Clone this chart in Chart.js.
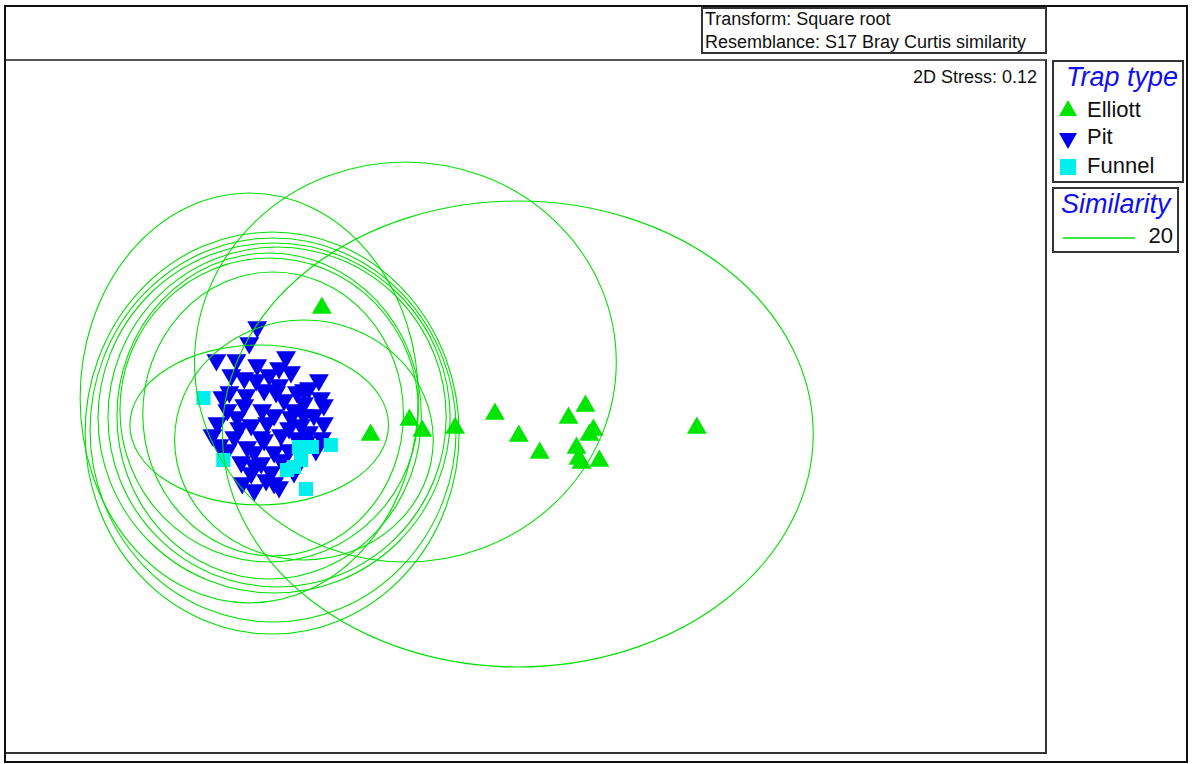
<!DOCTYPE html>
<html>
<head>
<meta charset="utf-8">
<title>nMDS – trap type</title>
<script src="https://cdn.jsdelivr.net/npm/chart.js@4.4.0/dist/chart.umd.min.js"></script>
<style>
  body { margin: 0; background: #fff; font-family: Arial, "Liberation Sans", sans-serif; }
  #wrap { position: relative; width: 1192px; height: 764px; overflow: hidden; }
  #grafico { position: absolute; left: 0; top: 0; }
  .marco { position: absolute; left: 4px; top: 5px; width: 1180px; height: 754px; border: 2px solid #111; }
  .caja-plot { position: absolute; left: 6px; top: 59px; width: 1039px; height: 691px;
               border-top: 2px solid #555; border-right: 2px solid #333; border-bottom: 2px solid #333; }
  .caja { position: absolute; border: 2px solid #333; background: #fff; }
  .txt { position: absolute; line-height: 1; white-space: nowrap; color: #111; }
  .tit { color: #1010ee; font-style: italic; font-size: 27px; }
  .fila { font-size: 22px; }
  .marca { position: absolute; }
</style>
</head>
<body>
<div id="wrap">
  <div class="marco"></div>
  <div class="caja-plot"></div>

  <div class="caja" style="left:701px; top:7px; width:342px; height:43px;"></div>
  <div class="txt" style="left:705px; top:10px; font-size:18px;">Transform: Square root</div>
  <div class="txt" style="left:705px; top:33px; font-size:18px;">Resemblance: S17 Bray Curtis similarity</div>
  <div class="txt" style="right:155px; top:68px; font-size:18px;">2D Stress: 0.12</div>

  <!-- trap type legend -->
  <div class="caja" style="left:1052px; top:60px; width:128px; height:119px;"></div>
  <div class="txt tit" style="left:1066px; top:64px;">Trap type</div>
  <svg class="marca" style="left:1059px; top:100px;" width="18" height="16"><polygon points="9,0 18,16 0,16" fill="#00e600"/></svg>
  <div class="txt fila" style="left:1087px; top:99px;">Elliott</div>
  <svg class="marca" style="left:1059px; top:133px;" width="18" height="16"><polygon points="0,0 18,0 9,16" fill="#0000ee"/></svg>
  <div class="txt fila" style="left:1087px; top:126px;">Pit</div>
  <svg class="marca" style="left:1060px; top:159px;" width="16" height="16"><rect x="0" y="0" width="16" height="16" fill="#00eeee"/></svg>
  <div class="txt fila" style="left:1087px; top:155px;">Funnel</div>

  <!-- similarity legend -->
  <div class="caja" style="left:1052px; top:187px; width:123px; height:62px;"></div>
  <div class="txt tit" style="left:1061px; top:191px;">Similarity</div>
  <svg class="marca" style="left:1063px; top:233px;" width="72" height="10"><line x1="0" y1="5" x2="72" y2="5" stroke="#00e000" stroke-width="1.5"/></svg>
  <div class="txt fila" style="right:19px; top:225px;">20</div>

  <canvas id="grafico" width="1192" height="764"></canvas>
</div>

<script>
// nMDS ordination, coordinates in ordination units
const elliottX = [-0.82, -0.33, 0.06, 0.19, 0.52, 0.92, 1.16, 1.37, 1.66, 1.83, 1.91, 1.87, 1.74, 1.79, 1.76, 1.97, 2.95];
const elliottY = [ 1.22, -0.05, 0.10, -0.01, 0.02, 0.16, -0.06, -0.23, 0.12, 0.24, 0.00, -0.05, -0.18, -0.33, -0.29, -0.31, 0.02];

const pitX = [-1.47, -1.55, -1.88, -1.68, -1.47, -1.18, -1.13, -1.73, -1.35, -0.85, -1.48, -1.58, -1.28, -1.07,
              -1.82, -0.83, -1.20, -1.00, -1.77, -1.42, -1.67, -1.30, -1.13, -0.90, -1.87, -1.53, -1.37, -1.03,
              -0.80, -1.92, -1.70, -1.43, -1.23, -1.07, -1.77, -1.57, -1.30, -0.88, -1.63, -1.43, -1.23, -1.53,
              -1.33, -1.62, -1.50, -1.30, -1.25, -1.60, -1.10, -0.98, -1.15, -1.50, -1.25, -0.95, -1.40,
              -1.75, -1.00, -0.80, -1.65, -1.40, -1.15, -0.95, -0.82, -1.50, -1.10, -1.38, -1.85, -1.00,
              -1.60, -1.25];
const pitY = [ 1.03, 0.87, 0.70, 0.70, 0.65, 0.73, 0.58, 0.55, 0.55, 0.50, 0.50, 0.35, 0.38, 0.38,
               0.33, 0.32, 0.30, 0.27, 0.20, 0.20, 0.13, 0.15, 0.13, 0.15, 0.07, 0.05, 0.07, 0.05,
               0.07, -0.05, -0.07, -0.07, -0.05, -0.08, -0.20, -0.17, -0.22, -0.20, -0.32, -0.33, -0.30, -0.43,
              -0.42, -0.53, -0.60, -0.53, -0.57, 0.25, 0.20, -0.12, -0.20, -0.22, 0.45, 0.42, 0.40,
               0.38, 0.40, 0.25, 0.02, -0.10, 0.02, -0.02, -0.08, -0.35, -0.42, -0.50, -0.15, 0.15,
               0.52, 0.62];

const funnelX = [-2.01, -1.81, -1.17, -1.10, -1.05, -0.92, -1.03, -0.73, -0.98];
const funnelY = [ 0.32, -0.30, -0.40, -0.37, -0.17, -0.17, -0.30, -0.15, -0.59];

// 20% similarity contours: centre and semi-axes
const contourX  = [1.15, 0.02, -1.55, -1.32, -1.31, -1.30, -1.27, -1.35, -1.35, -1.31, -1.00, -1.45];
const contourY  = [-0.04, 0.68, 0.32, -0.03, 0.00, 0.12, 0.13, 0.14, 0.20, 0.16, -0.10, 0.05];
const contourRx = [2.97, 2.12, 1.70, 1.88, 1.84, 1.77, 1.70, 1.53, 1.50, 1.31, 1.30, 1.30];
const contourRy = [2.33, 2.00, 2.05, 2.01, 1.92, 1.75, 1.70, 1.63, 1.52, 1.42, 1.20, 0.80];

const ringColour = '#00e000';

function puntos(xs, ys) {
    return xs.map((x, i) => ({ x, y: ys[i] }));
}

// Contours drawn over the samples, clipped to the plot box
const contornos = {
    id: 'contornos',
    afterDatasetsDraw(chart) {
        const { ctx, chartArea, scales: { x, y } } = chart;
        ctx.save();
        ctx.beginPath();
        ctx.rect(chartArea.left, chartArea.top, chartArea.width, chartArea.height);
        ctx.clip();
        ctx.strokeStyle = ringColour;
        ctx.lineWidth = 1.1;
        contourX.forEach((cx, i) => {
            const px = x.getPixelForValue(cx);
            const py = y.getPixelForValue(contourY[i]);
            const rx = Math.abs(x.getPixelForValue(cx + contourRx[i]) - px);
            const ry = Math.abs(y.getPixelForValue(contourY[i] + contourRy[i]) - py);
            ctx.beginPath();
            ctx.ellipse(px, py, rx, ry, 0, 0, 2 * Math.PI);
            ctx.stroke();
        });
        ctx.restore();
    }
};

const ctx = document.getElementById('grafico').getContext('2d');

window.graficoMDS = new Chart(ctx, {
    type: 'scatter',
    data: {
        datasets: [
            {
                label: 'Funnel',
                data: puntos(funnelX, funnelY),
                pointStyle: 'rect',
                pointRadius: 10,
                backgroundColor: '#00eeee',
                borderWidth: 0,
                order: 0
            },
            {
                label: 'Pit',
                data: puntos(pitX, pitY),
                pointStyle: 'triangle',
                rotation: 180,
                pointRadius: 11.5,
                backgroundColor: '#0000ee',
                borderWidth: 0,
                order: 1
            },
            {
                label: 'Elliott',
                data: puntos(elliottX, elliottY),
                pointStyle: 'triangle',
                pointRadius: 11.5,
                backgroundColor: '#00e600',
                borderWidth: 0,
                order: 2
            }
        ]
    },
    options: {
        responsive: false,
        animation: false,
        events: [],
        layout: { padding: { left: 6, top: 61, right: 147, bottom: 12 } },
        plugins: {
            legend: { display: false },
            tooltip: { enabled: false }
        },
        scales: {
            x: { type: 'linear', display: false, min: -3.94, max: 6.45 },
            y: { type: 'linear', display: false, min: -3.22, max: 3.69 }
        }
    },
    plugins: [contornos]
});
</script>
</body>
</html>
